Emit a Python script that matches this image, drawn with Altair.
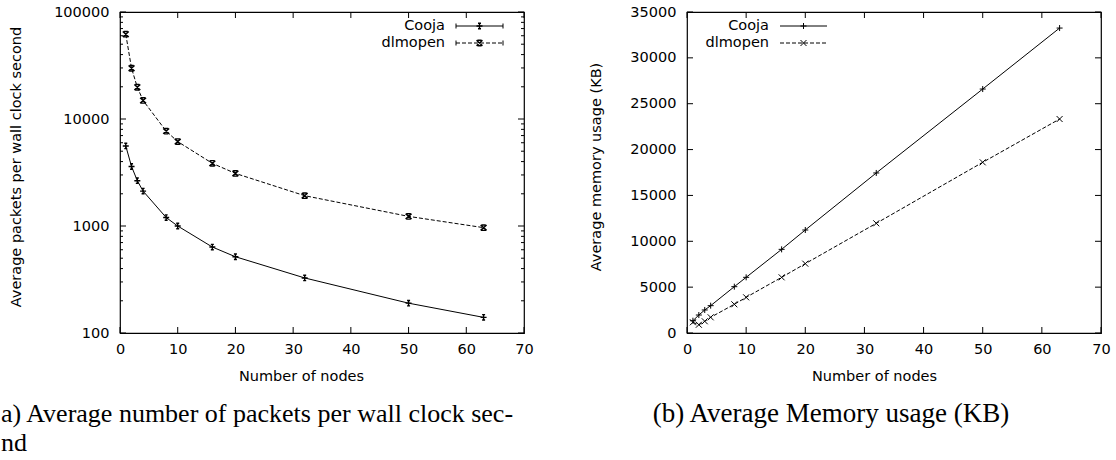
import altair as alt
import pandas as pd

# ---------------- data ----------------
nodes = [1, 2, 3, 4, 8, 10, 16, 20, 32, 50, 63]
series_names = ["Cooja", "dlmopen"]

cooja_pkts = [5600, 3600, 2650, 2120, 1200, 1000, 636, 516, 327, 190, 140]
dlmopen_pkts = [62000, 29800, 19800, 14900, 7700, 6150, 3850, 3100, 1920, 1230, 965]

cooja_mem = [1340, 1960, 2510, 2980, 5050, 6070, 9120, 11230, 17450, 26600, 33250]
dlmopen_mem = [1170, 900, 1280, 1710, 3130, 3890, 6070, 7560, 11960, 18610, 23330]

x_ticks = [0, 10, 20, 30, 40, 50, 60, 70]
pkt_major = [100, 1000, 10000, 100000]
pkt_minor = [k * m for m in (100, 1000, 10000) for k in range(2, 10)]
mem_ticks = [0, 5000, 10000, 15000, 20000, 25000, 30000, 35000]

x_title = "Number of nodes"
left_y_title = "Average packets per wall clock second"
right_y_title = "Average memory usage (KB)"
caption_a = ["a) Average number of packets per wall clock sec-", "nd"]
caption_b = ["(b) Average Memory usage (KB)"]

# ---------------- style ----------------
SANS = "DejaVu Sans"
SERIF = "Liberation Serif"
FS = 14.5
H = 321
LW = 404
RW = 414
DASH = [4, 2]

PLUS = "M-1,0H1M0,-1V1"
CROSS = "M-1,-1L1,1M-1,1L1,-1"
PLUS_BAR = "M-1,0H1M0,-0.9V0.9M-0.5,-0.9H0.5M-0.5,0.9H0.5"
CROSS_BAR = "M-1,-0.9L1,0.9M-1,0.9L1,-0.9M-0.7,-0.9H0.7M-0.7,0.9H0.7"


def xy(ys):
    return pd.DataFrame({"x": nodes, "y": ys})


def one(text):
    return pd.DataFrame({"t": [text]})


def panel(c_vals, d_vals, W, yscale, yaxis_values, ymajor, yminor, ytitle,
          ytitle_x, xtitle_x, legend_tx, legend_l0, legend_l1, caps,
          mk_c, mk_d, mk_size, mk_sw, captions):
    xscale = alt.Scale(domain=[0, 70], nice=False, zero=False)
    x_axis = alt.Axis(values=x_ticks, title=x_title, titleX=xtitle_x, titleY=43,
                      titleBaseline="middle", labelPadding=9, labelFlush=False,
                      labelOverlap=False, format="d")
    y_axis = alt.Axis(values=yaxis_values, title=ytitle, titleX=ytitle_x,
                      titleY=H / 2 - 6, titleBaseline="middle", titleAngle=-90,
                      labelPadding=11, labelFlush=False, labelOverlap=False, format="d")
    X = lambda: alt.X("x:Q", scale=xscale, axis=x_axis)
    Y = lambda: alt.Y("y:Q", scale=yscale, axis=y_axis)
    layers = []
    # data lines and markers
    for vals, dash, mk in [(c_vals, None, mk_c), (d_vals, DASH, mk_d)]:
        kw = dict(color="black", strokeWidth=1)
        if dash:
            kw["strokeDash"] = dash
        layers.append(alt.Chart(xy(vals)).mark_line(**kw).encode(x=X(), y=Y()))
        layers.append(alt.Chart(xy(vals)).mark_point(
            shape=mk, filled=False, stroke="black", strokeWidth=mk_sw,
            size=mk_size, opacity=1).encode(x=X(), y=Y()))
    # inward ticks (mirrored)
    xdf = pd.DataFrame({"x": x_ticks})
    for y0, y1 in [(H, H - 6), (0, 6)]:
        layers.append(alt.Chart(xdf).mark_rule(color="black", strokeWidth=1).encode(
            x=X(), y=alt.value(y0), y2=alt.value(y1)))
    for tv, ln in [(ymajor, 6), (yminor, 3)]:
        if not tv:
            continue
        ydf = pd.DataFrame({"y": tv})
        for x0, x1 in [(0, ln), (W, W - ln)]:
            layers.append(alt.Chart(ydf).mark_rule(color="black", strokeWidth=1).encode(
                y=Y(), x=alt.value(x0), x2=alt.value(x1)))
    # legend
    for name, ty, dash, mk in [(series_names[0], 14, None, mk_c), (series_names[1], 31, DASH, mk_d)]:
        layers.append(alt.Chart(one(name)).mark_text(
            align="right", baseline="middle", font=SANS, fontSize=FS, color="black").encode(
            text="t:N", x=alt.value(legend_tx), y=alt.value(ty)))
        kw = dict(color="black", strokeWidth=1)
        if dash:
            kw["strokeDash"] = dash
        layers.append(alt.Chart(one(name)).mark_rule(**kw).encode(
            x=alt.value(legend_l0), x2=alt.value(legend_l1), y=alt.value(ty)))
        layers.append(alt.Chart(one(name)).mark_point(
            shape=mk, filled=False, stroke="black", strokeWidth=mk_sw,
            size=mk_size, opacity=1).encode(
            x=alt.value((legend_l0 + legend_l1) / 2), y=alt.value(ty)))
        if caps:
            for cx in (legend_l0, legend_l1):
                layers.append(alt.Chart(one(name)).mark_rule(color="black", strokeWidth=1).encode(
                    x=alt.value(cx), y=alt.value(ty - 2.5), y2=alt.value(ty + 2.5)))
    # captions
    for text, cx, cy, align, fs in captions:
        layers.append(alt.Chart(one(text)).mark_text(
            align=align, baseline="alphabetic", font=SERIF, fontSize=fs, color="black").encode(
            text="t:N", x=alt.value(cx), y=alt.value(cy)))
    return alt.layer(*layers).properties(width=W, height=H)


left = panel(
    cooja_pkts, dlmopen_pkts, LW,
    alt.Scale(type="log", domain=[100, 100000], nice=False),
    pkt_major, pkt_major, pkt_minor, left_y_title,
    ytitle_x=-104, xtitle_x=LW / 2 - 21,
    legend_tx=325, legend_l0=336, legend_l1=383, caps=True,
    mk_c=PLUS_BAR, mk_d=CROSS_BAR, mk_size=36, mk_sw=1.4,
    captions=[(caption_a[0], -119, 410, "left", 26), (caption_a[1], -119, 439, "left", 26)])

right = panel(
    cooja_mem, dlmopen_mem, RW,
    alt.Scale(domain=[0, 35000], nice=False, zero=False),
    mem_ticks, mem_ticks, [], right_y_title,
    ytitle_x=-91, xtitle_x=RW / 2 - 20,
    legend_tx=82, legend_l0=93, legend_l1=140, caps=False,
    mk_c=PLUS, mk_d=CROSS, mk_size=36, mk_sw=1,
    captions=[(caption_b[0], 144, 410, "center", 27)])

chart = alt.hconcat(left, right, spacing=53).properties(
    padding={"left": 0, "top": 3, "right": 0, "bottom": 0},
    background="white",
).configure_view(
    stroke="black", strokeWidth=1.2
).configure_axis(
    domain=False, ticks=False, grid=False,
    labelFont=SANS, labelFontSize=FS, labelColor="black",
    titleFont=SANS, titleFontSize=FS, titleFontWeight="normal", titleColor="black",
)

chart.save("out.html", embed_options={"renderer": "svg", "actions": False})
